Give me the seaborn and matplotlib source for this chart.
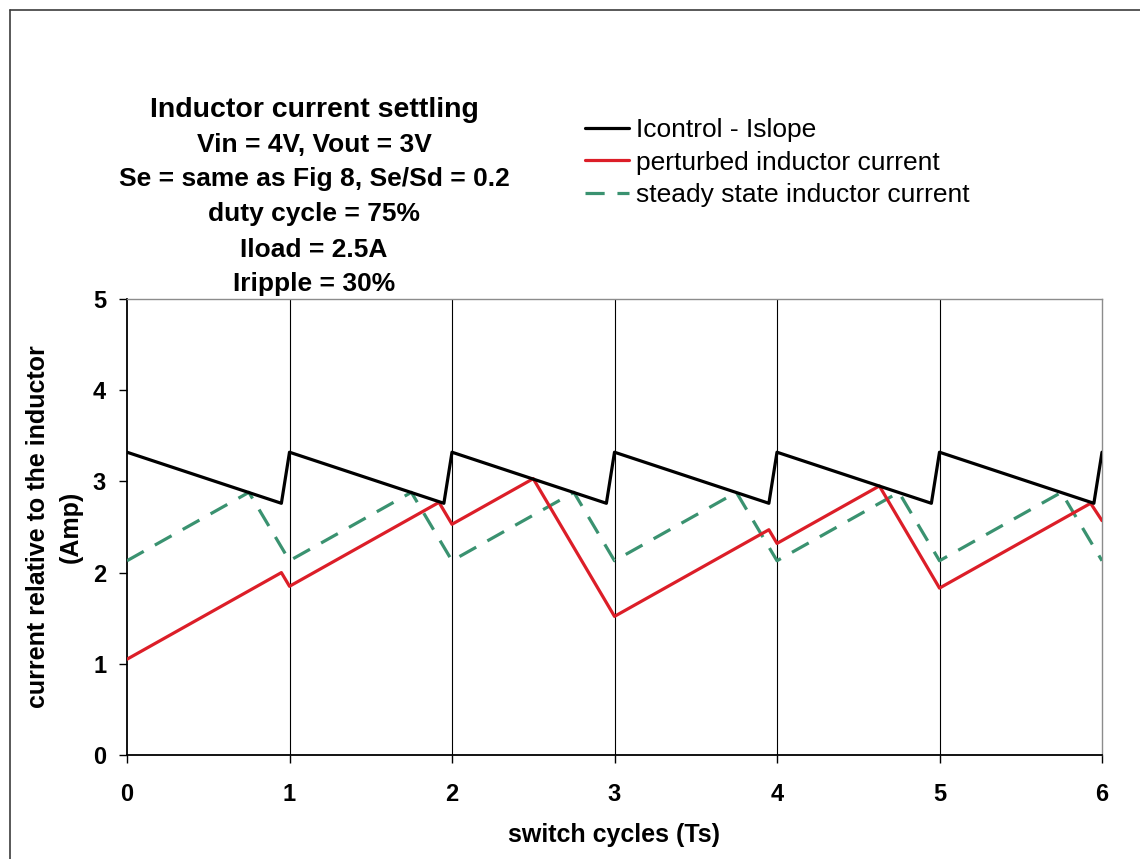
from __future__ import annotations

import pandas as pd
import seaborn as sns
from matplotlib import pyplot as plt
from matplotlib.lines import Line2D


# vertices (x in switch cycles, y in Amp)
CONTROL_X = [0, 0.95, 1, 1.95, 2, 2.95, 3, 3.95, 4, 4.95, 5, 5.95, 6]
CONTROL_Y = [3.32, 2.76, 3.32, 2.76, 3.32, 2.76, 3.32, 2.76, 3.32, 2.76, 3.32, 2.76, 3.32]

PERTURBED_X = [0, 0.95, 1, 1.92, 2, 2.50, 3, 3.95, 4, 4.63, 5, 5.93, 6]
PERTURBED_Y = [1.05, 2.00, 1.85, 2.77, 2.53, 3.03, 1.52, 2.47, 2.32, 2.95, 1.83, 2.76, 2.57]

STEADY_X = [0, 0.75, 1, 1.75, 2, 2.75, 3, 3.75, 4, 4.75, 5, 5.75, 6]
STEADY_Y = [2.13, 2.88, 2.13, 2.88, 2.13, 2.88, 2.13, 2.88, 2.13, 2.88, 2.13, 2.88, 2.13]

SERIES_LABELS = [
    "Icontrol - Islope",
    "perturbed inductor current",
    "steady state inductor current",
]

TITLE_LINES = [
    "Inductor current settling",
    "Vin = 4V, Vout = 3V",
    "Se = same as Fig 8, Se/Sd = 0.2",
    "duty cycle = 75%",
    "Iload = 2.5A",
    "Iripple = 30%",
]

X_TICKS = [0, 1, 2, 3, 4, 5, 6]
Y_TICKS = [0, 1, 2, 3, 4, 5]

W, H = 1140, 859


def _frame() -> pd.DataFrame:
    parts = []
    for label, xs, ys in zip(
        SERIES_LABELS,
        (CONTROL_X, PERTURBED_X, STEADY_X),
        (CONTROL_Y, PERTURBED_Y, STEADY_Y),
    ):
        parts.append(pd.DataFrame({"t": xs, "current": ys, "series": label}))
    return pd.concat(parts, ignore_index=True)


def main() -> None:
    df = _frame()
    sns.set_theme(style="white")
    plt.rcParams.update(
        {
            "font.family": ["Liberation Sans", "DejaVu Sans"],
            "text.color": "#000000",
            "axes.labelcolor": "#000000",
            "xtick.color": "#000000",
            "ytick.color": "#000000",
        }
    )

    colors = {
        SERIES_LABELS[0]: "#000000",
        SERIES_LABELS[1]: "#DC1E28",
        SERIES_LABELS[2]: "#3A9270",
    }
    styles = {
        SERIES_LABELS[0]: "-",
        SERIES_LABELS[1]: "-",
        SERIES_LABELS[2]: (0, (6, 4)),
    }

    fig = plt.figure(figsize=(W / 100, H / 100), dpi=100)
    ax = fig.add_axes((127 / W, 1 - 755 / H, 975 / W, 456 / H))

    # grid first so series sit on top
    for x in X_TICKS[1:-1]:
        ax.axvline(x, color="#000000", linewidth=0.8, zorder=1)

    for label in [SERIES_LABELS[2], SERIES_LABELS[1], SERIES_LABELS[0]]:
        sub = df[df["series"] == label]
        sns.lineplot(
            data=sub,
            x="t",
            y="current",
            color=colors[label],
            linestyle=styles[label],
            linewidth=2.3,
            estimator=None,
            sort=False,
            ax=ax,
            zorder=3,
        )

    ax.set_xlim(0, 6)
    ax.set_ylim(0, 5)
    ax.set_xticks(X_TICKS)
    ax.set_yticks(Y_TICKS)
    ax.tick_params(axis="x", direction="out", length=6, width=1, pad=14,
                   labelsize=17, bottom=True)
    ax.tick_params(axis="y", direction="out", length=6, width=1, pad=9,
                   labelsize=17, left=True)
    for lab in ax.get_xticklabels() + ax.get_yticklabels():
        lab.set_fontweight("bold")

    for side in ("left", "bottom"):
        ax.spines[side].set_color("#000000")
        ax.spines[side].set_linewidth(1.3)
    for side in ("top", "right"):
        ax.spines[side].set_color("#8C8C8C")
        ax.spines[side].set_linewidth(1.0)

    ax.set_xlabel("switch cycles (Ts)", fontsize=18, fontweight="bold", va="center")
    ax.xaxis.set_label_coords(0.5, -(835 - 755) / 456)
    ax.set_ylabel("current relative to the inductor\n(Amp)", fontsize=18,
                  fontweight="bold", va="center", linespacing=1.45)
    ax.yaxis.set_label_coords((54 - 127) / 975, 0.5)

    # stacked chart title, left of the legend
    title_y = [110, 145, 179, 214, 250, 284]
    for i, (line, ypx) in enumerate(zip(TITLE_LINES, title_y)):
        fig.text(314 / W, 1 - ypx / H, line, ha="center", va="center",
                 fontsize=20.5 if i == 0 else 19, fontweight="bold")

    handles = [
        Line2D([], [], color=colors[s], linestyle=styles[s], linewidth=2.3)
        for s in SERIES_LABELS
    ]
    fig.legend(
        handles,
        SERIES_LABELS,
        loc="upper left",
        bbox_to_anchor=(585 / W, 1 - 118 / H),
        frameon=False,
        fontsize=19,
        handlelength=1.65,
        handletextpad=0.3,
        labelspacing=0.33,
        borderpad=0,
        borderaxespad=0,
    )

    # chart-area border, cropped on the right and bottom
    fig.add_artist(Line2D([10 / W, 10 / W], [0, 1 - 10 / H], color="#3C3C3C",
                          linewidth=1.2, transform=fig.transFigure))
    fig.add_artist(Line2D([10 / W, 1], [1 - 10 / H, 1 - 10 / H], color="#3C3C3C",
                          linewidth=1.2, transform=fig.transFigure))

    fig.savefig("out.png", dpi=100)
    plt.close(fig)


if __name__ == "__main__":
    main()
